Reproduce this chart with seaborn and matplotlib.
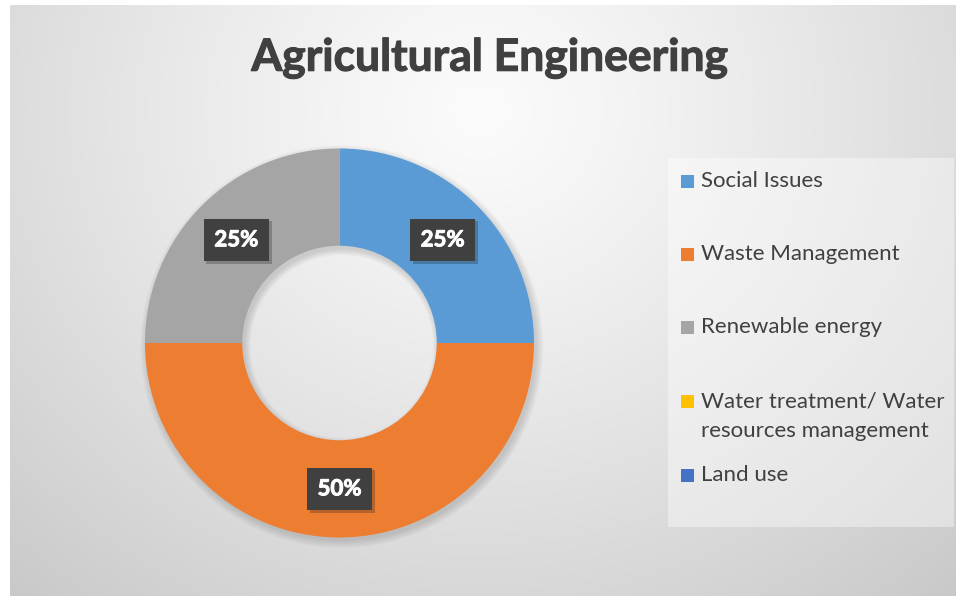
import numpy as np
import matplotlib.pyplot as plt
import matplotlib.patheffects as pe
from matplotlib.patches import Rectangle, Wedge
import seaborn as sns

# data
categories = ['Social Issues', 'Waste Management', 'Renewable energy',
              'Water treatment/ Water\nresources management', 'Land use']
shares = [25, 50, 25, 0, 0]
colors = ['#5B9BD5', '#ED7D31', '#A5A5A5', '#FFC000', '#4472C4']
title = 'Agricultural Engineering'

sns.set_theme(style='white')
plt.rcParams['font.family'] = ['Lato', 'DejaVu Sans']

W, H = 956, 598
fig = plt.figure(figsize=(W / 100, H / 100), dpi=100)

# background with soft radial gradient (pixel coords, y down)
bg = fig.add_axes([0, 0, 1, 1], zorder=-10)
yy, xx = np.mgrid[0:H, 0:W]
d = np.hypot(xx - 480, (yy - 110) * 1.1) / 720
shade = 0.985 - 0.2 * np.clip(d, 0, 1.2) ** 1.2
img = np.dstack([shade] * 3)
img[:, :10] = 1
img[:5] = 1
img[596:] = 1
bg.imshow(img, extent=(0, W, H, 0), aspect='auto', interpolation='bilinear')
bg.set_xlim(0, W)
bg.set_ylim(H, 0)
bg.axis('off')

# donut
cx, cy, R = 339.5, 343, 194.5
side = 2 * R * 1.25
ax = fig.add_axes([(cx - side / 2) / W, (H - cy - side / 2) / H, side / W, side / H])
# soft shadow ring behind the donut
for k in range(6):
    r_out = 1 + 0.007 * k
    r_in = 0.5 - 0.006 * k
    ax.add_patch(Wedge((0.012, -0.018), r_out, 0, 360, width=r_out - r_in,
                       fc='black', alpha=0.025, ec='none', zorder=0))
wedges, _ = ax.pie(shares, colors=colors, startangle=90, counterclock=False,
                   radius=1, wedgeprops=dict(width=0.5, edgecolor='none'))
ax.set_xlim(-1.25, 1.25)
ax.set_ylim(-1.25, 1.25)
ax.axis('off')

for w, v in zip(wedges, shares):
    if v == 0:
        continue
    ang = np.deg2rad((w.theta1 + w.theta2) / 2)
    t = ax.text(0.75 * np.cos(ang), 0.75 * np.sin(ang), f'{v}%',
                ha='center', va='center', color='white', fontsize=16,
                fontweight='bold', zorder=5,
                path_effects=[pe.withStroke(linewidth=0.7, foreground='white')],
                bbox=dict(boxstyle='square,pad=0.48', fc='#404040', ec='none'))
    t.get_bbox_patch().set_path_effects(
        [pe.SimplePatchShadow(offset=(2, -2), alpha=0.25), pe.Normal()])

# title
bg.text(490, 58, title, ha='center', va='center', fontsize=32,
        fontweight='bold', color='#404040',
        path_effects=[pe.withStroke(linewidth=0.8, foreground='#404040')])

# legend box
bg.add_patch(Rectangle((668, 158), 286, 369, fc='white', alpha=0.4, ec='none'))
rows = [181, 254, 327, 401, 475]
for lab, col, y in zip(categories, colors, rows):
    bg.add_patch(Rectangle((681, y - 6.5), 13, 13, fc=col, ec='none'))
    for i, line in enumerate(lab.split('\n')):
        bg.text(701, y + i * 30, line, ha='left', va='center',
                fontsize=16, color='#404040')

fig.savefig('out.png', dpi=100)
